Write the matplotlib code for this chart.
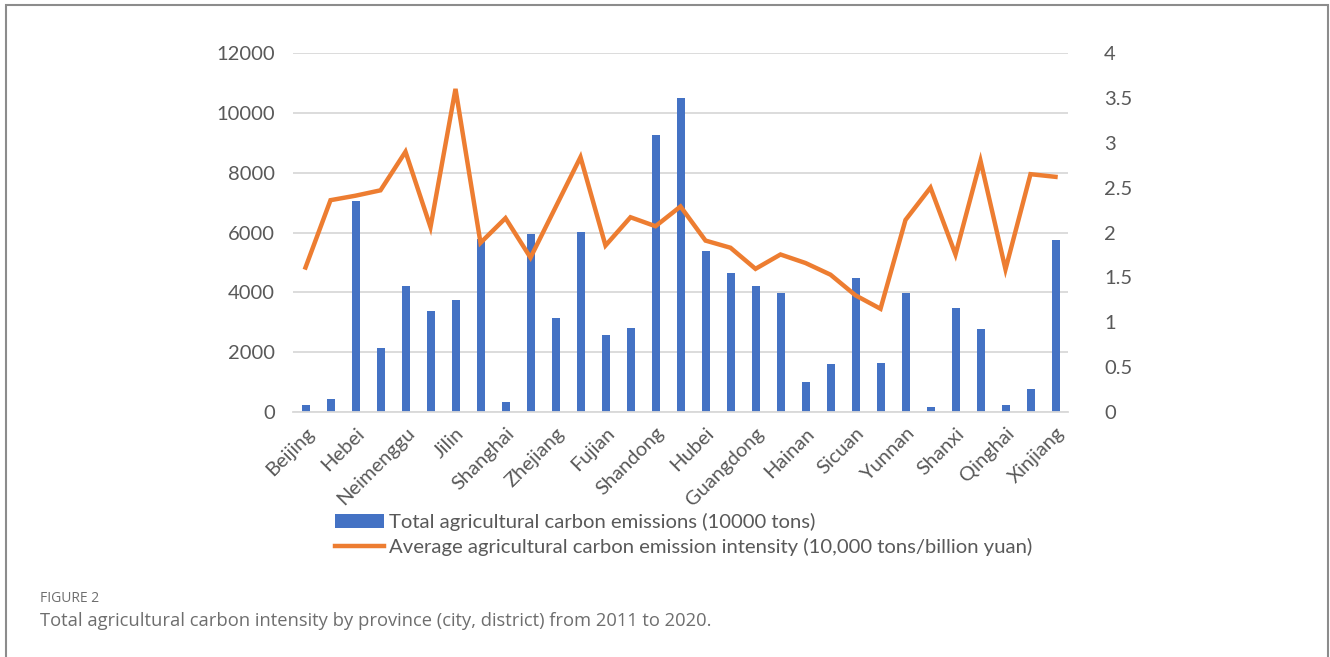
import matplotlib
matplotlib.use("Agg")
import matplotlib.pyplot as plt
from matplotlib.lines import Line2D
from matplotlib.patches import Patch, Rectangle

provinces = ["Beijing", "Tianjin", "Hebei", "Shanxi", "Neimenggu", "Liaoning", "Jilin",
             "Heilongjiang", "Shanghai", "Jiangsu", "Zhejiang", "Anhui", "Fujian", "Jiangxi",
             "Shandong", "Henan", "Hubei", "Hunan", "Guangdong", "Guangxi", "Hainan",
             "Chongqing", "Sicuan", "Guizhou", "Yunnan", "Xizang", "Shanxi", "Gansu",
             "Qinghai", "Ningxia", "Xinjiang"]

total_emissions = [220, 435, 7060, 2150, 4200, 3380, 3760, 5780, 335, 5960, 3155, 6010,
                   2590, 2820, 9260, 10510, 5370, 4640, 4225, 3990, 1000, 1605, 4480,
                   1650, 3980, 160, 3460, 2765, 225, 770, 5740]

emission_intensity = [1.61, 2.36, 2.41, 2.47, 2.90, 2.06, 3.60, 1.885, 2.16, 1.72, 2.28,
                      2.84, 1.855, 2.17, 2.07, 2.29, 1.91, 1.83, 1.595, 1.755, 1.66, 1.53,
                      1.30, 1.15, 2.14, 2.50, 1.755, 2.80, 1.59, 2.65, 2.62]

bar_label = "Total agricultural carbon emissions (10000 tons)"
line_label = "Average agricultural carbon emission intensity (10,000 tons/billion yuan)"

BLUE = "#4472C4"
ORANGE = "#ED7D31"
TEXT = "#595959"
GRID = "#D9D9D9"

plt.rcParams["font.family"] = ["Lato", "DejaVu Sans"]

W, H = 1330, 657
fig = plt.figure(figsize=(W / 100, H / 100), dpi=100)

# plot area in pixel coords: x 293..1068, y 53..412
ax = fig.add_axes([293 / W, 1 - 412 / H, (1068 - 293) / W, (412 - 53) / H])
x = list(range(len(provinces)))
ax.bar(x, total_emissions, width=0.32, color=BLUE, zorder=2)
ax.set_xlim(-0.5, len(provinces) - 0.5)
ax.set_ylim(0, 12000)
ax.set_yticks(range(0, 12001, 2000))
ax.yaxis.grid(True, color=GRID, lw=1.3, zorder=0)
ax.set_axisbelow(True)
for s in ["top", "right", "left"]:
    ax.spines[s].set_visible(False)
ax.spines["bottom"].set_color(GRID)
ax.spines["bottom"].set_linewidth(1.3)
ax.tick_params(axis="y", length=0, pad=13, labelsize=14.5, labelcolor=TEXT)
ax.set_xticks(x[::2])
ax.set_xticklabels(provinces[::2], rotation=45, ha="right", rotation_mode="anchor")
ax.tick_params(axis="x", length=0, pad=9, labelsize=14.5, labelcolor=TEXT)

ax2 = ax.twinx()
ax2.plot(x, emission_intensity, color=ORANGE, lw=3.2, solid_joinstyle="miter", zorder=3)
ax2.set_ylim(0, 4)
ax2.set_yticks([0, 0.5, 1, 1.5, 2, 2.5, 3, 3.5, 4])
ax2.set_yticklabels(["0", "0.5", "1", "1.5", "2", "2.5", "3", "3.5", "4"])
for s in ax2.spines.values():
    s.set_visible(False)
ax2.tick_params(axis="y", length=0, pad=26, labelsize=14.5, labelcolor=TEXT)

handles = [Patch(facecolor=BLUE, edgecolor="none"),
           Line2D([], [], color=ORANGE, lw=3.2)]
fig.legend(handles, [bar_label, line_label], loc="upper left",
           bbox_to_anchor=(335 / W, 1 - 513 / H), frameon=False, fontsize=14.6,
           labelcolor=TEXT, handlelength=2.4, handleheight=0.7, handletextpad=0.25,
           labelspacing=0.36, borderpad=0, borderaxespad=0)

fig.text(40 / W, 1 - 598 / H, "FIGURE 2", fontsize=10, color="#6E6E6E", va="center",
         family=["Open Sans", "DejaVu Sans"])
fig.text(40 / W, 1 - 621 / H,
         "Total agricultural carbon intensity by province (city, district) from 2011 to 2020.",
         fontsize=13.2, color="#6E6E6E", va="center", family=["Open Sans", "DejaVu Sans"])

frame = Rectangle((6 / W, -0.2), (1328 - 6) / W, 1.2 - 5 / H, transform=fig.transFigure,
                  fill=False, edgecolor="#8C8C8C", lw=1.5, clip_on=False)
fig.add_artist(frame)

fig.savefig("out.png", dpi=100)
